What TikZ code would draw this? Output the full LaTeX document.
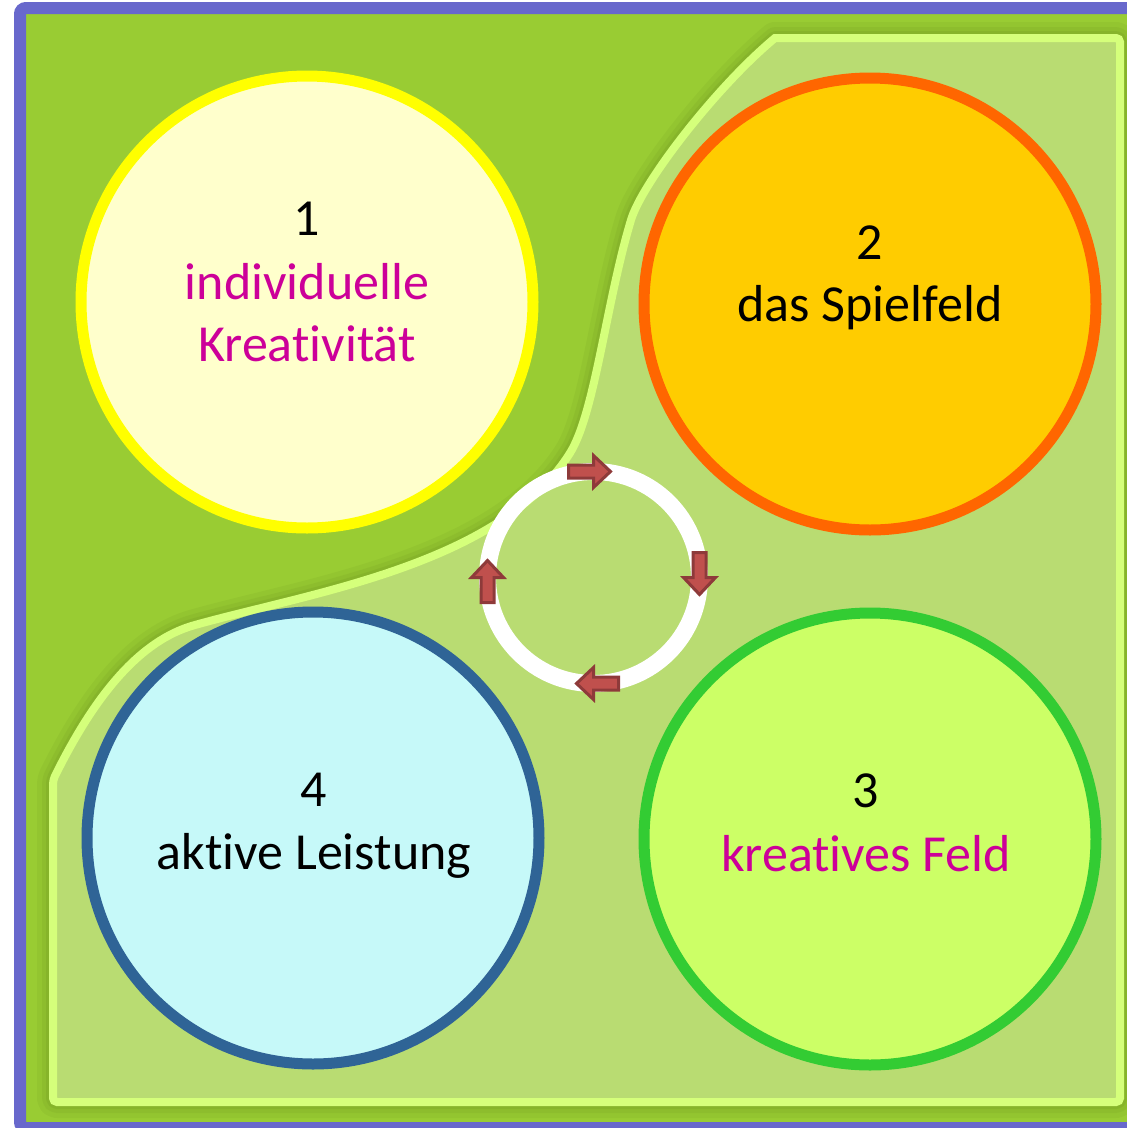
\documentclass[tikz,border=0pt]{standalone}
\usepackage{fontspec}
\setmainfont[RawFeature={-liga;-clig;-calt}]{Carlito}
\definecolor{borderpurple}{HTML}{6868CC}
\definecolor{bggreen}{HTML}{99CC33}
\definecolor{shadowgreen}{HTML}{6E9420}
\definecolor{regionfill}{HTML}{B9DC72}
\definecolor{regionline}{HTML}{D5FF7B}
\definecolor{yellowfill}{HTML}{FFFFCC}
\definecolor{yellowline}{HTML}{FFFF00}
\definecolor{orangefill}{HTML}{FFCC00}
\definecolor{orangeline}{HTML}{FF6600}
\definecolor{limefill}{HTML}{CCFF66}
\definecolor{limeline}{HTML}{33CC33}
\definecolor{cyanfill}{HTML}{C6F9F9}
\definecolor{blueline}{HTML}{2F6496}
\definecolor{arrowfill}{HTML}{C0504D}
\definecolor{arrowdraw}{HTML}{8E3A3A}
\definecolor{magentatext}{HTML}{CC0099}
\newcommand\regionpath{(53,780) .. controls (95,695) and (140,640) .. (195,625) .. controls (309,593) and (500,565) .. (570,453) .. controls (595,413) and (606,303) .. (631,220) .. controls (642,183) and (716,87) .. (775,38) [rounded corners=4pt] -- (1120,38) -- (1120,1102) -- (53,1102) -- cycle}
\newcommand\ringarrow[2]{%
  \begin{scope}[shift={(#1)}, rotate=#2]
    \filldraw[cyclearrow] (-25,-6.5) -- (0,-6.5) -- (0,-16) -- (17,0) -- (0,16) -- (0,6.5) -- (-25,6.5) -- cycle;
  \end{scope}}
\tikzset{
  bigcircle/.style={circle, minimum size=452pt, inner sep=0pt, outer sep=0pt, line width=11pt},
  lbl/.style={anchor=base, font=\fontsize{52}{62}\selectfont, inner sep=0pt, outer sep=0pt},
  cyclearrow/.style={fill=arrowfill, draw=arrowdraw, line width=3pt, line join=miter},
  shadowline/.style={draw=shadowgreen, line join=round},
}
\begin{document}
\begin{tikzpicture}[x=1pt,y=-1pt]
\useasboundingbox (0,0) rectangle (1127,1128);
\clip (0,0) rectangle (1127,1128);
\fill[white] (0,0) rectangle (1127,1128);
% frame
\draw[line width=12pt, draw=borderpurple, fill=bggreen, rounded corners=6pt] (20,8) rectangle (1145,1128);
% soft shadow of the light region
\draw[shadowline, line width=32pt, opacity=0.12] \regionpath;
\draw[shadowline, line width=22pt, opacity=0.15] \regionpath;
\draw[shadowline, line width=14pt, opacity=0.2] \regionpath;
% light region
\filldraw[fill=regionfill, draw=regionline, line width=8pt] \regionpath;
% circles
\node[bigcircle, draw=yellowline, fill=yellowfill] (c1) at (307,302) {};
\node[bigcircle, draw=orangeline, fill=orangefill] (c2) at (870,304) {};
\node[bigcircle, draw=limeline, fill=limefill] (c3) at (870,839) {};
\node[bigcircle, draw=blueline, fill=cyanfill] (c4) at (313,838) {};
% labels
\node[lbl] (n1) at (307,235) {1};
\node[lbl, text=magentatext] (t1a) at (307,299) {individuelle};
\node[lbl, text=magentatext] (t1b) at (307,361) {Kreat\kern0pt ivität};
\node[lbl] (n2) at (870,259) {2};
\node[lbl] (t2) at (870,321) {das Spielfeld};
\node[lbl] (n3) at (866,807) {3};
\node[lbl, text=magentatext] (t3) at (866,871) {kreatives Feld};
\node[lbl] (n4) at (314,806) {4};
\node[lbl] (t4) at (314,869) {akt\kern0pt ive Leistung};
% central cycle ring
\node[circle, draw=white, line width=17pt, minimum size=212pt, inner sep=0pt, outer sep=0pt] (ring) at (593.5,577.5) {};
\ringarrow{ring.north}{0}
\ringarrow{ring.east}{-90}
\ringarrow{ring.south}{180}
\ringarrow{ring.west}{90}
\end{tikzpicture}
\end{document}
